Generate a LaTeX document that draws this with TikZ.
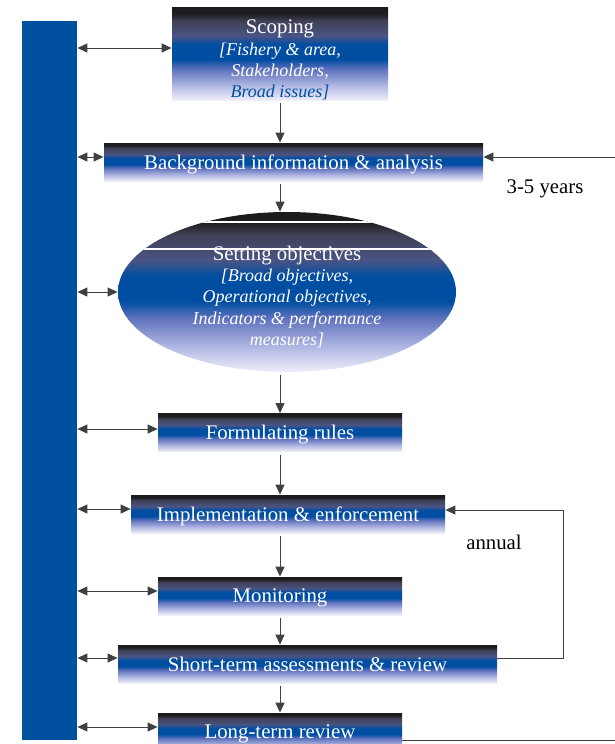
\documentclass[tikz,border=0pt]{standalone}
\usepackage{fontspec}
\setmainfont{Liberation Serif}
\newfontfamily\stagefont{Liberation Serif}
\usetikzlibrary{shapes.geometric,arrows.meta}
\definecolor{barblue}{RGB}{0,80,160}
\definecolor{shadeA}{RGB}{238,238,250}
\definecolor{shadeB}{RGB}{176,182,226}
\definecolor{shadeC}{RGB}{92,112,188}
\definecolor{shadeD}{RGB}{0,78,162}
\definecolor{shadeE}{RGB}{74,84,132}
\definecolor{shadeF}{RGB}{64,64,86}
\definecolor{shadeG}{RGB}{28,28,30}
\pgfdeclareverticalshading{stageshade}{100bp}{color(0bp)=(shadeA); color(25bp)=(shadeA); color(33bp)=(shadeB); color(42bp)=(shadeC); color(47bp)=(shadeD); color(55bp)=(shadeD); color(60bp)=(shadeE); color(68bp)=(shadeF); color(72bp)=(shadeG); color(100bp)=(shadeG)}
\newcommand{\stageit}[1]{{\fontsize{9}{10.6}\selectfont\itshape #1}}
\tikzstyle{stage} = [shading=stageshade, text=white, inner sep=0pt, minimum height=19pt, font={\stagefont\fontsize{10.4}{10.6}\selectfont}]
\tikzstyle{oneline} = [stage, text depth=0pt]
\tikzstyle{note} = [text=black, font={\stagefont\fontsize{10.4}{10.6}\selectfont}]
\tikzstyle{link} = [draw=black!75, line width=0.5pt]
\tikzstyle{flow} = [link, -{Triangle[length=5pt,width=4.5pt]}]
\tikzstyle{both} = [link, {Triangle[length=5pt,width=4.5pt]}-{Triangle[length=5pt,width=4.5pt]}]

\begin{document}
\begin{tikzpicture}[x=0.5pt,y=-0.5pt]
  \useasboundingbox (0,0) rectangle (615,744);
  \node[fill=barblue, inner sep=0pt, minimum width=27.5pt, minimum height=359.5pt](lead) at (49.5,380.5){};
  \node[stage, align=center, minimum width=108pt, minimum height=46pt](scoping) at (280,54){\rule{0pt}{13pt}Scoping\\ \stageit{[Fishery \& area,}\\ \stageit{Stakeholders,}\\ \textcolor{barblue}{\stageit{Broad issues]}}};
  \node[oneline, minimum width=189.5pt](background) at (293.5,162){Background information \& analysis};
  \node[stage, ellipse, align=center, minimum width=169pt, minimum height=80pt](objectives) at (287,292){\rule{0pt}{12pt}Setting objectives\\ \stageit{[Broad objectives,}\\ \stageit{Operational objectives,}\\ \stageit{Indicators \& performance}\\ \stageit{measures]}};
  \node[oneline, minimum width=122pt](formulating) at (280,432.5){Formulating rules};
  \node[oneline, minimum width=157pt](implementation) at (288,514){Implementation \& enforcement};
  \node[oneline, minimum width=122pt](monitoring) at (280,596){Monitoring};
  \node[oneline, minimum width=189.5pt](shortterm) at (307.5,664){Short-term assessments \& review};
  \node[oneline, minimum width=122pt](longterm) at (280,732){Long-term review};
  \node[note](years) at (545,189){3-5 years};
  \node[note](annual) at (494,542){annual};
  \begin{scope}
    \clip (objectives.center) ellipse [x radius=169, y radius=80];
    \draw[white, line width=0.6pt] (100,222) -- (470,222) (100,249) -- (470,249);
  \end{scope}
  \foreach \a/\b in {scoping/background, background/objectives, objectives/formulating, formulating/implementation, implementation/monitoring, monitoring/shortterm, shortterm/longterm}
    \draw[flow, shorten <=1.5pt] (\a.south -| scoping.south) -- (\b.north -| scoping.south);
  \foreach \n/\y in {scoping/48, background/157, objectives/292, formulating/429, implementation/509, monitoring/591, shortterm/658, longterm/727}
    \draw[both] (lead.east |- 0,\y) -- (\n.west |- 0,\y);
  \coordinate (yearsin) at (615,157);
  \draw[flow] (yearsin) -- (background.east |- yearsin);
  \coordinate (annualturn) at (563,510);
  \draw[flow] (shortterm.east |- 0,658) -| (annualturn) -- (implementation.east |- annualturn);
  \coordinate (longout) at (615,740);
  \draw[link] (longterm.east |- longout) -- (longout);
\end{tikzpicture}
\end{document}
